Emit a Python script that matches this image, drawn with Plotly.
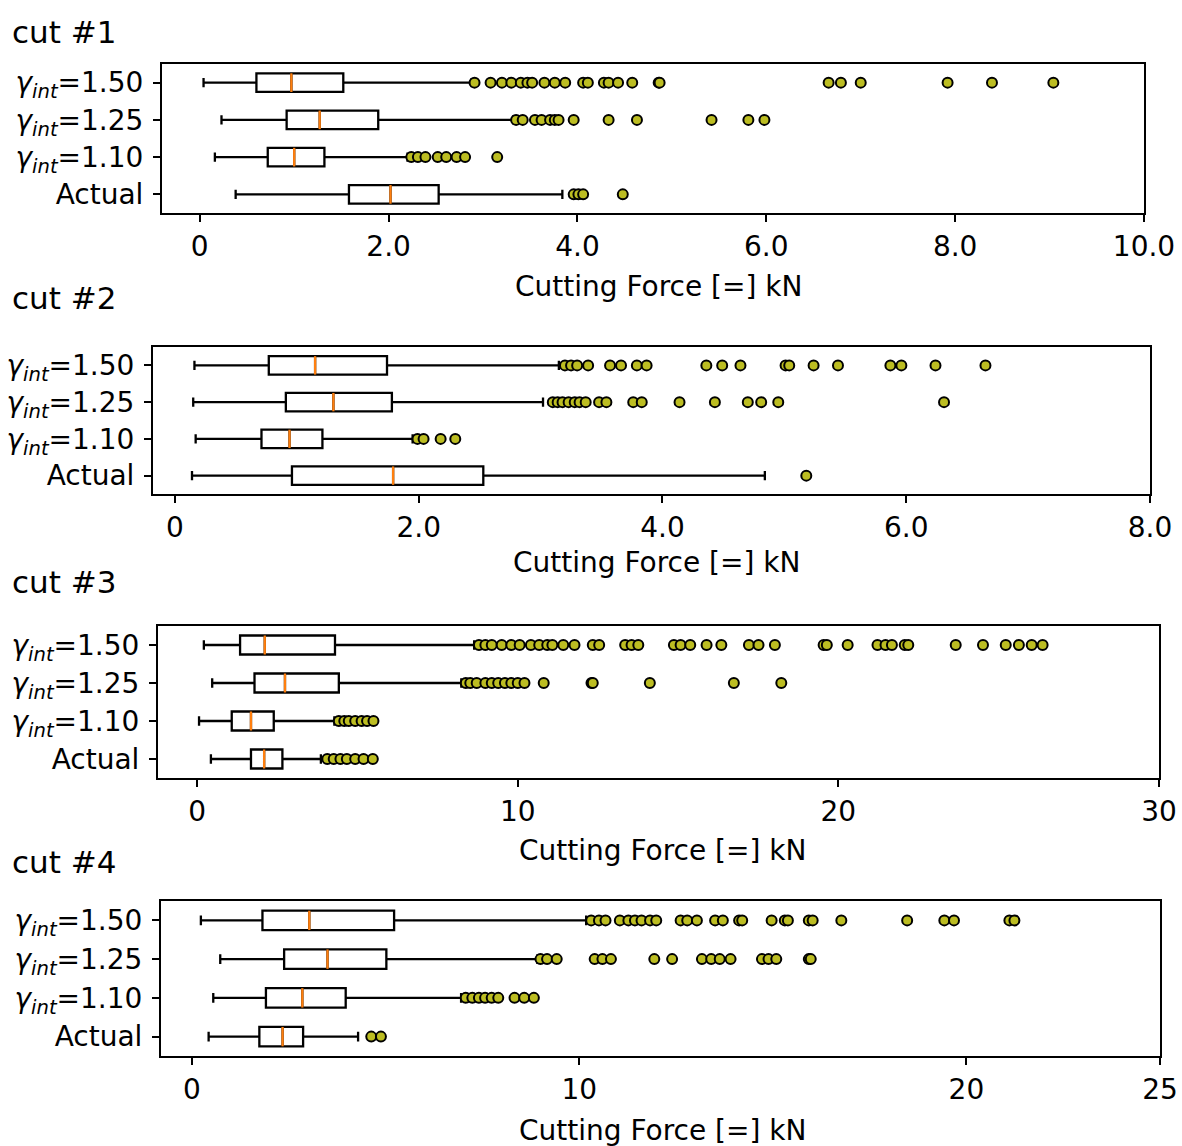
import plotly.graph_objects as go

W, H = 1182, 1146

# category order (bottom -> top)
tick_labels = ["Actual",
               "<i>γ</i><sub><i>int</i></sub>=1.10",
               "<i>γ</i><sub><i>int</i></sub>=1.25",
               "<i>γ</i><sub><i>int</i></sub>=1.50"]
positions = [1, 2, 3, 4]

# ---- cut #1 ----
cut1_low = [0.38, 0.16, 0.23, 0.04]
cut1_q1 = [1.58, 0.72, 0.92, 0.60]
cut1_med = [2.02, 1.00, 1.27, 0.97]
cut1_q3 = [2.53, 1.32, 1.89, 1.52]
cut1_high = [3.84, 2.20, 3.32, 2.88]
cut1_out_actual = [3.96, 4.01, 4.06, 4.48]
cut1_out_110 = [2.24, 2.31, 2.39, 2.52, 2.61, 2.72, 2.81, 3.15]
cut1_out_125 = [3.35, 3.42, 3.55, 3.62, 3.71, 3.76, 3.80, 3.96, 4.33, 4.63, 5.42, 5.81, 5.98]
cut1_out_150 = [2.91, 3.08, 3.20, 3.30, 3.40, 3.47, 3.52, 3.65, 3.76, 3.87, 4.06, 4.11,
                4.28, 4.33, 4.43, 4.58, 4.86, 4.87, 6.66, 6.79, 7.00, 7.92, 8.39, 9.04]
cut1_ticks = [0, 2, 4, 6, 8, 10]
cut1_ticktext = ["0", "2.0", "4.0", "6.0", "8.0", "10.0"]

# ---- cut #2 ----
cut2_low = [0.14, 0.17, 0.15, 0.16]
cut2_q1 = [0.96, 0.71, 0.91, 0.77]
cut2_med = [1.79, 0.94, 1.30, 1.15]
cut2_q3 = [2.53, 1.21, 1.78, 1.74]
cut2_high = [4.84, 1.95, 3.02, 3.15]
cut2_out_actual = [5.18]
cut2_out_110 = [1.99, 2.04, 2.18, 2.30]
cut2_out_125 = [3.10, 3.14, 3.18, 3.23, 3.28, 3.32, 3.37, 3.48, 3.54, 3.76, 3.83, 4.14,
                4.43, 4.70, 4.81, 4.95, 6.31]
cut2_out_150 = [3.20, 3.25, 3.30, 3.39, 3.57, 3.66, 3.79, 3.87, 4.36, 4.49, 4.64, 5.01,
                5.04, 5.24, 5.44, 5.87, 5.96, 6.24, 6.65]
cut2_ticks = [0, 2, 4, 6, 8]
cut2_ticktext = ["0", "2.0", "4.0", "6.0", "8.0"]

# ---- cut #3 ----
cut3_low = [0.43, 0.06, 0.47, 0.21]
cut3_q1 = [1.68, 1.08, 1.79, 1.34]
cut3_med = [2.09, 1.68, 2.74, 2.11]
cut3_q3 = [2.66, 2.39, 4.42, 4.30]
cut3_high = [3.86, 4.28, 8.24, 8.64]
cut3_out_actual = [4.06, 4.26, 4.47, 4.67, 4.93, 5.19, 5.48]
cut3_out_110 = [4.42, 4.59, 4.73, 4.93, 5.13, 5.30, 5.50]
cut3_out_125 = [8.38, 8.52, 8.72, 8.99, 9.19, 9.39, 9.60, 9.80, 10.00, 10.21, 10.81,
                12.30, 12.34, 14.12, 16.74, 18.22]
cut3_out_150 = [8.79, 8.99, 9.19, 9.50, 9.80, 10.06, 10.41, 10.67, 10.92, 11.08, 11.42,
                11.77, 12.34, 12.54, 13.35, 13.55, 13.76, 14.87, 15.08, 15.38, 15.89,
                16.35, 17.21, 17.51, 18.02, 19.54, 19.64, 20.29, 21.22, 21.47, 21.67,
                22.07, 22.18, 23.66, 24.51, 25.22, 25.63, 26.03, 26.37]
cut3_ticks = [0, 10, 20, 30]
cut3_ticktext = ["0", "10", "20", "30"]

# ---- cut #4 ----
cut4_low = [0.43, 0.55, 0.73, 0.23]
cut4_q1 = [1.74, 1.91, 2.38, 1.82]
cut4_med = [2.34, 2.85, 3.50, 3.03]
cut4_q3 = [2.87, 3.97, 5.02, 5.22]
cut4_high = [4.29, 6.95, 8.92, 10.18]
cut4_out_actual = [4.63, 4.88]
cut4_out_110 = [7.07, 7.24, 7.41, 7.57, 7.74, 7.91, 8.33, 8.58, 8.83]
cut4_out_125 = [9.00, 9.17, 9.42, 10.40, 10.60, 10.82, 11.94, 12.40, 13.17, 13.41,
                13.63, 13.91, 14.72, 14.89, 15.09, 15.93, 15.98]
cut4_out_150 = [10.31, 10.51, 10.68, 11.05, 11.27, 11.44, 11.61, 11.83, 11.99, 12.62,
                12.79, 13.04, 13.51, 13.71, 14.13, 14.21, 14.97, 15.31, 15.39, 15.93,
                16.03, 16.77, 18.47, 19.43, 19.68, 21.11, 21.24]
cut4_ticks = [0, 10, 20, 25]
cut4_ticktext = ["0", "10", "20", "25"]

titles = ["cut #1", "cut #2", "cut #3", "cut #4"]
xlabel = "Cutting Force [=] kN"

cuts = [
    (cut1_low, cut1_q1, cut1_med, cut1_q3, cut1_high,
     [cut1_out_actual, cut1_out_110, cut1_out_125, cut1_out_150], cut1_ticks, cut1_ticktext),
    (cut2_low, cut2_q1, cut2_med, cut2_q3, cut2_high,
     [cut2_out_actual, cut2_out_110, cut2_out_125, cut2_out_150], cut2_ticks, cut2_ticktext),
    (cut3_low, cut3_q1, cut3_med, cut3_q3, cut3_high,
     [cut3_out_actual, cut3_out_110, cut3_out_125, cut3_out_150], cut3_ticks, cut3_ticktext),
    (cut4_low, cut4_q1, cut4_med, cut4_q3, cut4_high,
     [cut4_out_actual, cut4_out_110, cut4_out_125, cut4_out_150], cut4_ticks, cut4_ticktext),
]

# layout geometry (pixels)
plot_boxes = [(162, 1144, 64, 213), (153, 1150, 347, 494), (158, 1159, 626, 778), (161, 1160, 901, 1056)]
x_ranges = [[-0.40, 10], [-0.18, 8], [-1.22, 30], [-0.80, 25]]
title_y = [32, 298, 582, 862]
xlabel_pos = [(658, 287), (657, 562), (662, 850), (662, 1130)]

FONT = "DejaVu Sans"
FS = 28
BOX_W = 0.5
FLIER = "#bcbd22"

fig = go.Figure()
layout = dict(width=W, height=H, autosize=False, margin=dict(l=0, r=0, t=0, b=0),
              paper_bgcolor="white", plot_bgcolor="white", showlegend=False,
              font=dict(family=FONT, size=FS, color="black"))
annotations = []

for i, (low, q1, med, q3, high, outs, ticks, ticktext) in enumerate(cuts):
    k = "" if i == 0 else str(i + 1)
    xa, ya = "x" + k, "y" + k
    fig.add_trace(go.Box(
        y=positions, q1=q1, median=med, q3=q3, lowerfence=low, upperfence=high,
        orientation="h", width=BOX_W, whiskerwidth=0.5, fillcolor="white",
        line=dict(color="black", width=2.3), boxpoints=False,
        xaxis=xa, yaxis=ya, hoverinfo="skip"))
    # median lines (orange)
    mx, my = [], []
    for p, m in zip(positions, med):
        mx += [m, m, None]
        my += [p - BOX_W / 2, p + BOX_W / 2, None]
    fig.add_trace(go.Scatter(x=mx, y=my, mode="lines", line=dict(color="#ff7f0e", width=2.3),
                             xaxis=xa, yaxis=ya, hoverinfo="skip"))
    # outliers
    ox, oy = [], []
    for p, o in zip(positions, outs):
        ox += o
        oy += [p] * len(o)
    fig.add_trace(go.Scatter(x=ox, y=oy, mode="markers",
                             marker=dict(color=FLIER, size=10, line=dict(color="black", width=2)),
                             xaxis=xa, yaxis=ya, hoverinfo="skip"))

    x0, x1, y0, y1 = plot_boxes[i]
    axis_common = dict(showline=True, linecolor="black", linewidth=2, mirror=True,
                       ticks="outside", ticklen=7, tickwidth=2, tickcolor="black",
                       showgrid=False, zeroline=False, automargin=False,
                       tickfont=dict(family=FONT, size=FS, color="black"))
    layout["xaxis" + k] = dict(domain=[x0 / W, x1 / W], range=x_ranges[i], anchor=ya,
                               tickmode="array", tickvals=ticks, ticktext=ticktext,
                               **axis_common)
    layout["yaxis" + k] = dict(domain=[1 - y1 / H, 1 - y0 / H], range=[0.5, 4.5], anchor=xa,
                               tickmode="array", tickvals=positions, ticktext=tick_labels,
                               ticklabelstandoff=4, **axis_common)
    annotations.append(dict(text=titles[i], x=10 / W, y=1 - title_y[i] / H, xref="paper",
                            yref="paper", xanchor="left", yanchor="middle", showarrow=False,
                            font=dict(family=FONT, size=31, color="black")))
    annotations.append(dict(text=xlabel, x=xlabel_pos[i][0] / W, y=1 - xlabel_pos[i][1] / H,
                            xref="paper", yref="paper", xanchor="center", yanchor="middle",
                            showarrow=False, font=dict(family=FONT, size=FS, color="black")))

layout["annotations"] = annotations
fig.update_layout(**layout)

post = ("document.documentElement.style.margin='0';document.body.style.margin='0';"
        "document.documentElement.style.overflow='hidden';document.body.style.overflow='hidden';"
        "var gd=document.getElementById('{plot_id}');"
        "Plotly.relayout(gd,{width:%d,height:%d,autosize:false});" % (W, H))
fig.write_html("out.html", config={"responsive": False, "displayModeBar": False}, post_script=post)
